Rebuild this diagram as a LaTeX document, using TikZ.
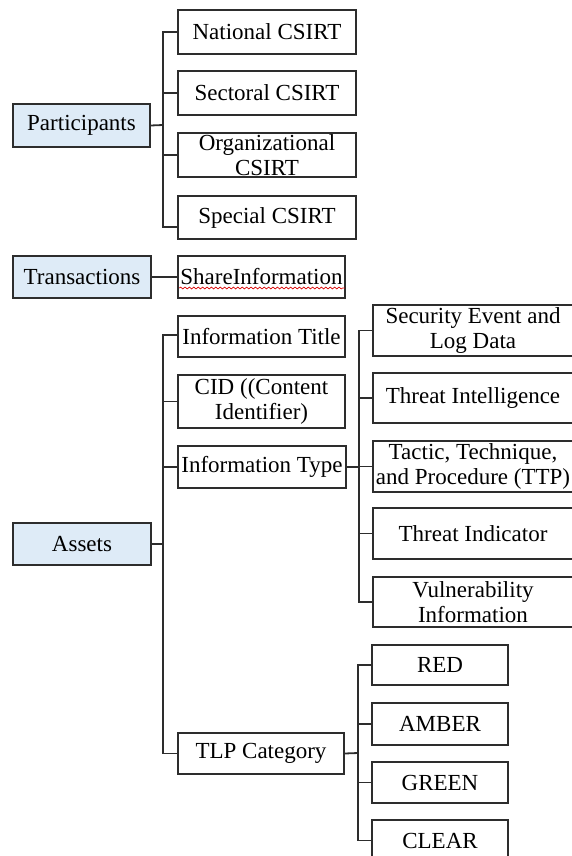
\documentclass[tikz,border=0pt]{standalone}
\usepackage{fontspec}
\setmainfont{Liberation Serif}
\usetikzlibrary{decorations.pathmorphing}
\definecolor{headfill}{RGB}{222,235,247}
\definecolor{edge}{RGB}{45,45,45}
\begin{document}
\begin{tikzpicture}[x=0.5pt,y=-0.5pt,
  box/.style 2 args={draw=edge, line width=0.75pt, minimum width=#1*0.5pt,
    minimum height=#2*0.5pt, inner sep=0pt, align=center,
    font=\fontsize{11.5}{12.2}\selectfont},
  head/.style={fill=headfill},
  link/.style={draw=edge, line width=0.9pt}]
\useasboundingbox (0,0) rectangle (572,856);

% top-level categories
\node[box={137}{43},head] (part)   at (81.5,125.5) {Participants};
\node[box={138}{42},head] (trans)  at (82,277)     {Transactions};
\node[box={138}{42},head] (assets) at (82,544)     {Assets};

% participants
\node[box={178}{44}] (nat) at (267,32)    {National CSIRT};
\node[box={178}{44}] (sec) at (267,93)    {Sectoral CSIRT};
\node[box={178}{44}] (org) at (267,155)   {Organizational\\CSIRT};
\node[box={178}{43}] (spe) at (267,217.5) {Special CSIRT};

% transactions
\node[box={167}{42}] (share) at (261.5,277) {ShareInformation};

% assets
\node[box={167}{41}] (title) at (261.5,336.5) {Information Title};
\node[box={167}{53}] (cid)   at (261.5,401.5) {CID ((Content\\Identifier)};
\node[box={168}{42}] (itype) at (262,467)     {Information Type};
\node[box={166}{41}] (tlp)   at (261,753.5)   {TLP Category};

% information types
\node[box={200}{51}] (sev)  at (473,330.5) {Security Event and\\Log Data};
\node[box={200}{50}] (ti)   at (473,398)   {Threat Intelligence};
\node[box={200}{51}] (ttp)  at (473,466.5) {Tactic, Technique,\\and Procedure (TTP)};
\node[box={200}{51}] (tind) at (473,533.5) {Threat Indicator};
\node[box={200}{50}] (vul)  at (473,602)   {Vulnerability\\Information};

% TLP levels
\node[box={136}{40}] (red)   at (440,665)   {RED};
\node[box={136}{42}] (amber) at (440,724)   {AMBER};
\node[box={136}{41}] (green) at (440,782.5) {GREEN};
\node[box={136}{41}] (clear) at (440,840.5) {CLEAR};

% spell-check underline
\draw[red!85!black, line width=0.35pt, decorate,
  decoration={snake, amplitude=0.45pt, segment length=2.2pt}]
  ([xshift=1pt,yshift=-5.5pt]share.west) -- ([xshift=-0.5pt,yshift=-5.5pt]share.east);

% junction points
\coordinate (pj) at (163,125);
\coordinate (aj) at (163,544);
\coordinate (ij) at (359,467);
\coordinate (tj) at (358,753);

% participants branch
\draw[link] (part.east) -- (pj);
\foreach \n in {nat,sec,org} \draw[link] (pj) |- (\n.west);
\draw[link] (pj) |- ([yshift=-4.75pt]spe.west);

% transactions branch
\draw[link] (trans.east) -- (share.west);

% assets branch
\draw[link] (assets.east) -- (aj);
\draw[link] (aj) |- ([yshift=0.75pt]title.west);
\foreach \n in {cid,itype,tlp} \draw[link] (aj) |- (\n.west);

% information type branch
\draw[link] (itype.east) -- (ij);
\foreach \n in {sev,ti,ttp,tind,vul} \draw[link] (ij) |- (\n.west);

% TLP branch
\draw[link] (tlp.east) -- (tj);
\foreach \n in {red,amber,green,clear} \draw[link] (tj) |- (\n.west);
\end{tikzpicture}
\end{document}
